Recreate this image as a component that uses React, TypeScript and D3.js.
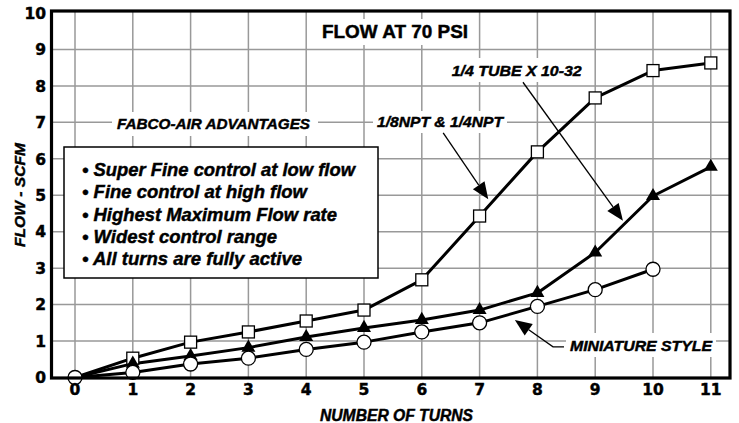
import * as d3 from "d3";

const FONT = "'Liberation Sans', Arial, Helvetica, sans-serif";
const TICK_FONT = "'DejaVu Sans', 'Liberation Sans', sans-serif";

// number of turns
const turns = [0, 1, 2, 3, 4, 5, 6, 7, 8, 9, 10, 11];
// FLOW - SCFM
const tubeFlow = [0, 0.53, 0.97, 1.25, 1.55, 1.85, 2.68, 4.43, 6.19, 7.67, 8.42, 8.63];
const nptFlow = [0, 0.38, 0.59, 0.82, 1.11, 1.36, 1.58, 1.85, 2.32, 3.43, 4.98, 5.78];
const miniFlow = [0, 0.14, 0.37, 0.53, 0.77, 0.97, 1.25, 1.5, 1.95, 2.41, 2.97];

const xTicks = turns;
const yTicks = [0, 1, 2, 3, 4, 5, 6, 7, 8, 9, 10];

const advantages = [
  "• Super Fine control at low flow",
  "• Fine control at high flow",
  "• Highest Maximum Flow rate",
  "• Widest control range",
  "• All turns are fully active",
];
const advantageWidths = [273, 225, 255, 195, 220];

const W = 739;
const H = 423;
const FRAME = { left: 51.5, right: 730, top: 11, bottom: 378 };
// a hairline outline makes the bold face look like the heavy original type
const HEAVY = { stroke: "#000", strokeWidth: 0.45 };

type Pt = [number, number];

export default function App() {
  const x = d3.scaleLinear().domain([0, 11]).range([75, 710.8]);
  const y = d3.scaleLinear().domain([0, 10]).range([377.5, 13]);

  const line = d3
    .line<Pt>()
    .x((d) => x(d[0]))
    .y((d) => y(d[1]));

  const tube: Pt[] = tubeFlow.map((v, i) => [turns[i], v]);
  const npt: Pt[] = nptFlow.map((v, i) => [turns[i], v]);
  const mini: Pt[] = miniFlow.map((v, i) => [turns[i], v]);

  const tri = d3.symbol().type(d3.symbolTriangle).size(85)();

  // arrow: polyline in data units, filled head at the last point
  const arrow = (pts: Pt[], key: string) => {
    const px = pts.map((p) => [x(p[0]), y(p[1])]);
    const [ax, ay] = px[px.length - 2];
    const [bx, by] = px[px.length - 1];
    const ang = Math.atan2(by - ay, bx - ax);
    const len = 17;
    const half = 7;
    const baseX = bx - len * Math.cos(ang);
    const baseY = by - len * Math.sin(ang);
    const head = [
      [bx, by],
      [baseX + half * Math.sin(ang), baseY - half * Math.cos(ang)],
      [baseX - half * Math.sin(ang), baseY + half * Math.cos(ang)],
    ];
    const shaft = px.slice(0, -1).concat([[baseX, baseY]]);
    return (
      <g key={key}>
        <polyline
          points={shaft.map((p) => p.join(",")).join(" ")}
          fill="none"
          stroke="#000"
          strokeWidth={1.3}
        />
        <polygon points={head.map((p) => p.join(",")).join(" ")} fill="#000" />
      </g>
    );
  };

  const label = (
    text: string,
    cx: number,
    base: number,
    width: number,
    box: [number, number, number, number],
    size: number,
    italic = true
  ) => (
    <g key={text}>
      <rect x={box[0]} y={box[1]} width={box[2] - box[0]} height={box[3] - box[1]} fill="#fff" />
      <text
        x={cx - width / 2}
        y={base}
        textLength={width}
        lengthAdjust="spacingAndGlyphs"
        fontFamily={FONT}
        fontWeight="bold"
        fontStyle={italic ? "italic" : "normal"}
        fontSize={size}
        {...HEAVY}
      >
        {text}
      </text>
    </g>
  );

  return (
    <svg
      width={W}
      height={H}
      style={{ position: "absolute", left: 0, top: 0, background: "#fff" }}
    >
      <rect width={W} height={H} fill="#fff" />
      {/* grid */}
      <g stroke="#999" strokeWidth={1.5}>
        {xTicks.map((t) => (
          <line key={"gx" + t} x1={x(t)} x2={x(t)} y1={FRAME.top} y2={FRAME.bottom} />
        ))}
        {yTicks.slice(1, -1).map((t) => (
          <line key={"gy" + t} x1={FRAME.left} x2={FRAME.right} y1={y(t)} y2={y(t)} />
        ))}
      </g>

      {/* labels with white backing */}
      {label("FLOW AT 70 PSI", 395, 38, 146, [309, 19, 477, 45], 18, false)}
      {label("FABCO-AIR ADVANTAGES", 213.5, 129, 193, [112, 112, 318, 136], 15)}
      {label("1/8NPT & 1/4NPT", 440, 127, 126, [373, 111, 507, 133], 15)}
      {label("1/4 TUBE X 10-32", 516.7, 75.5, 130, [446, 58, 588, 82], 15)}
      {label("MINIATURE STYLE", 641, 350.5, 142, [566, 333, 716, 357], 15)}

      {/* arrows */}
      {arrow([[6.37, 6.71], [7.15, 4.89]], "a1")}
      {arrow([[7.75, 8.1], [9.48, 4.3]], "a2")}
      {arrow([[8.46, 0.84], [8.27, 0.84], [7.61, 1.58]], "a3")}

      {/* series lines */}
      <g fill="none" stroke="#000" strokeWidth={3} strokeLinejoin="round">
        <path d={line(tube) ?? ""} />
        <path d={line(npt) ?? ""} />
        <path d={line(mini) ?? ""} />
      </g>

      {/* markers */}
      {tube.slice(1).map((d, i) => (
        <rect
          key={"sq" + i}
          x={x(d[0]) - 6}
          y={y(d[1]) - 6}
          width={12}
          height={12}
          fill="#fff"
          stroke="#000"
          strokeWidth={1.3}
        />
      ))}
      {npt.slice(1).map((d, i) => (
        <path key={"tr" + i} d={tri ?? ""} transform={`translate(${x(d[0])},${y(d[1])})`} fill="#000" />
      ))}
      {mini.map((d, i) => (
        <circle key={"ci" + i} cx={x(d[0])} cy={y(d[1])} r={7} fill="#fff" stroke="#000" strokeWidth={1.3} />
      ))}

      {/* advantages box */}
      <rect x={64} y={147} width={314} height={131} fill="#fff" stroke="#000" strokeWidth={1.5} />
      {advantages.map((t, i) => (
        <text
          key={t}
          x={82}
          y={176 + i * 22.3}
          textLength={advantageWidths[i]}
          lengthAdjust="spacingAndGlyphs"
          fontFamily={FONT}
          fontWeight="bold"
          fontStyle="italic"
          fontSize={18}
          {...HEAVY}
        >
          {t}
        </text>
      ))}

      {/* frame */}
      <rect
        x={FRAME.left}
        y={FRAME.top}
        width={FRAME.right - FRAME.left}
        height={FRAME.bottom - FRAME.top}
        fill="none"
        stroke="#000"
        strokeWidth={3.2}
      />

      {/* tick labels */}
      <g fontFamily={TICK_FONT} fontWeight="bold" fontSize={15.5} {...HEAVY}>
        {yTicks.map((t) => (
          <text key={"yl" + t} x={46} y={y(t)} dy="0.37em" textAnchor="end">
            {t}
          </text>
        ))}
        {xTicks.map((t) => (
          <text key={"xl" + t} x={x(t)} y={395} textAnchor="middle">
            {t}
          </text>
        ))}
      </g>

      {/* axis titles */}
      <text
        x={396.5 - 76.5}
        y={421}
        textLength={153}
        lengthAdjust="spacingAndGlyphs"
        fontFamily={FONT}
        fontWeight="bold"
        fontStyle="italic"
        fontSize={16}
        {...HEAVY}
      >
        NUMBER OF TURNS
      </text>
      <text
        transform="translate(25,195) rotate(-90)"
        x={-52}
        textLength={104}
        lengthAdjust="spacingAndGlyphs"
        fontFamily={FONT}
        fontWeight="bold"
        fontStyle="italic"
        fontSize={15}
        {...HEAVY}
      >
        FLOW - SCFM
      </text>
    </svg>
  );
}
